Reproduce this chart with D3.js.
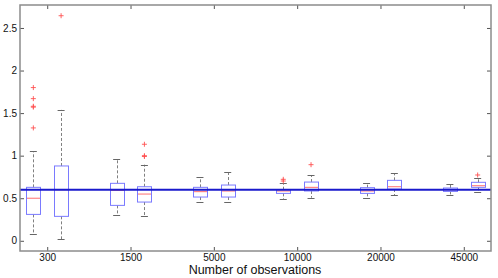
<!DOCTYPE html>
<html>
<head>
<meta charset="utf-8">
<script src="https://cdn.jsdelivr.net/npm/d3@7"></script>
<style>
  body { margin: 0; background: #fff; }
  svg { display: block; font-family: "Liberation Sans", Arial, sans-serif; }
</style>
</head>
<body>
<svg id="chart" width="498" height="278"></svg>
<script>
// group labels (sample sizes), two boxes per group
var groups = ["300", "1500", "5000", "10000", "20000", "45000"];
// box positions, MATLAB-style: 1,2 | 4,5 | ...
var positions = [1, 2, 4, 5, 7, 8, 10, 11, 13, 14, 16, 17];
var q1 =      [0.31, 0.287, 0.416, 0.455, 0.514, 0.514, 0.557, 0.585, 0.557, 0.608, 0.58, 0.628];
var medians = [0.50, 0.60, 0.593, 0.549, 0.577, 0.585, 0.585, 0.628, 0.585, 0.635, 0.60, 0.647];
var q3 =      [0.628, 0.879, 0.675, 0.635, 0.628, 0.655, 0.60, 0.69, 0.624, 0.71, 0.62, 0.687];
var whiskLo = [0.075, 0.016, 0.298, 0.287, 0.455, 0.459, 0.487, 0.506, 0.498, 0.534, 0.534, 0.573];
var whiskHi = [1.05, 1.538, 0.957, 0.894, 0.746, 0.805, 0.675, 0.773, 0.675, 0.793, 0.663, 0.734];
var outliers = [
  [1.80, 1.67, 1.58, 1.57, 1.326],
  [2.644],
  [],
  [1.134, 1.0, 0.99],
  [], [],
  [0.722, 0.702],
  [0.894],
  [], [], [],
  [0.773]
];
var trueValue = 0.6;
var yTicks = [0, 0.5, 1, 1.5, 2, 2.5];

var svg = d3.select("#chart");
var margin = {left: 20, top: 5, right: 7, bottom: 27};
var W = 498, H = 278;

var x = d3.scaleLinear().domain([0.52, 17.48]).range([margin.left, W - margin.right]);
var y = d3.scaleLinear().domain([-0.12, 2.77]).range([H - margin.bottom, margin.top]);

var axisColor = "#8c8c8c";

// boxes
var boxW = 14;
var data = positions.map(function(p, i) {
  return {p: p, q1: q1[i], med: medians[i], q3: q3[i], lo: whiskLo[i], hi: whiskHi[i], out: outliers[i]};
});

var g = svg.append("g");

var b = g.selectAll("g.box").data(data).enter().append("g").attr("class", "box");

// whiskers dashed
b.append("line")
  .attr("x1", function(d) { return Math.round(x(d.p)) + 0.5; })
  .attr("x2", function(d) { return Math.round(x(d.p)) + 0.5; })
  .attr("y1", function(d) { return y(d.q3); })
  .attr("y2", function(d) { return y(d.hi); })
  .attr("stroke", "#808080").attr("stroke-dasharray", "3,2");
b.append("line")
  .attr("x1", function(d) { return Math.round(x(d.p)) + 0.5; })
  .attr("x2", function(d) { return Math.round(x(d.p)) + 0.5; })
  .attr("y1", function(d) { return y(d.q1); })
  .attr("y2", function(d) { return y(d.lo); })
  .attr("stroke", "#808080").attr("stroke-dasharray", "3,2");
// caps
["hi", "lo"].forEach(function(k) {
  b.append("line")
    .attr("x1", function(d) { return x(d.p) - 3.5; })
    .attr("x2", function(d) { return x(d.p) + 3.5; })
    .attr("y1", function(d) { return Math.round(y(d[k])) + 0.5; })
    .attr("y2", function(d) { return Math.round(y(d[k])) + 0.5; })
    .attr("stroke", "#666");
});

b.append("rect")
  .attr("x", function(d) { return Math.round(x(d.p) - boxW / 2) + 0.5; })
  .attr("width", boxW)
  .attr("y", function(d) { return y(d.q3); })
  .attr("height", function(d) { return y(d.q1) - y(d.q3); })
  .attr("fill", "none").attr("stroke", "#7a7aff");

b.append("line")
  .attr("x1", function(d) { return Math.round(x(d.p) - boxW / 2) + 1; })
  .attr("x2", function(d) { return Math.round(x(d.p) + boxW / 2); })
  .attr("y1", function(d) { return y(d.med); })
  .attr("y2", function(d) { return y(d.med); })
  .attr("stroke", "#ff7070");

// outliers as red plus signs
b.each(function(d) {
  d3.select(this).selectAll("path.out").data(d.out).enter().append("path")
    .attr("class", "out")
    .attr("d", function(v) {
      var cx = x(d.p), cy = y(v);
      return "M" + (cx - 2.5) + "," + cy + "H" + (cx + 2.5) + "M" + cx + "," + (cy - 2.5) + "V" + (cy + 2.5);
    })
    .attr("stroke", "#ff5050").attr("stroke-width", 0.9);
});

// reference line
svg.append("line")
  .attr("x1", margin.left).attr("x2", W - margin.right)
  .attr("y1", y(trueValue)).attr("y2", y(trueValue))
  .attr("stroke", "#1a1acc").attr("stroke-width", 2);

// axes
var xTickPos = groups.map(function(_, i) { return positions[2 * i] + 0.5; });
var xAxis = d3.axisBottom(x).tickValues(xTickPos).tickSize(-4).tickPadding(3)
  .tickFormat(function(d, i) { return groups[i]; });
var xAxisTop = d3.axisTop(x).tickValues(xTickPos).tickSize(-4).tickFormat("");
var yAxis = d3.axisLeft(y).tickValues(yTicks).tickSize(-4).tickPadding(3)
  .tickFormat(function(d) { return d; });
var yAxisRight = d3.axisRight(y).tickValues(yTicks).tickSize(-4).tickFormat("");

function styleAxis(sel) {
  sel.select(".domain").remove();
  sel.selectAll(".tick line").attr("stroke", "#555");
  sel.selectAll("text").attr("fill", "#111").attr("font-size", 10);
}

svg.append("g").attr("transform", "translate(0," + (H - margin.bottom) + ")").call(xAxis).call(styleAxis);
svg.append("g").attr("transform", "translate(0," + margin.top + ")").call(xAxisTop).call(styleAxis);
svg.append("g").attr("transform", "translate(" + margin.left + ",0)").call(yAxis).call(styleAxis);
svg.append("g").attr("transform", "translate(" + (W - margin.right) + ",0)").call(yAxisRight).call(styleAxis);

// frame
svg.append("rect")
  .attr("x", margin.left).attr("y", margin.top)
  .attr("width", W - margin.left - margin.right)
  .attr("height", H - margin.top - margin.bottom)
  .attr("fill", "none").attr("stroke", axisColor).attr("stroke-width", 1.5);

svg.append("text")
  .attr("x", 255).attr("y", 274)
  .attr("text-anchor", "middle").attr("font-size", 12.5).attr("fill", "#111")
  .text("Number of observations");
</script>
</body>
</html>
